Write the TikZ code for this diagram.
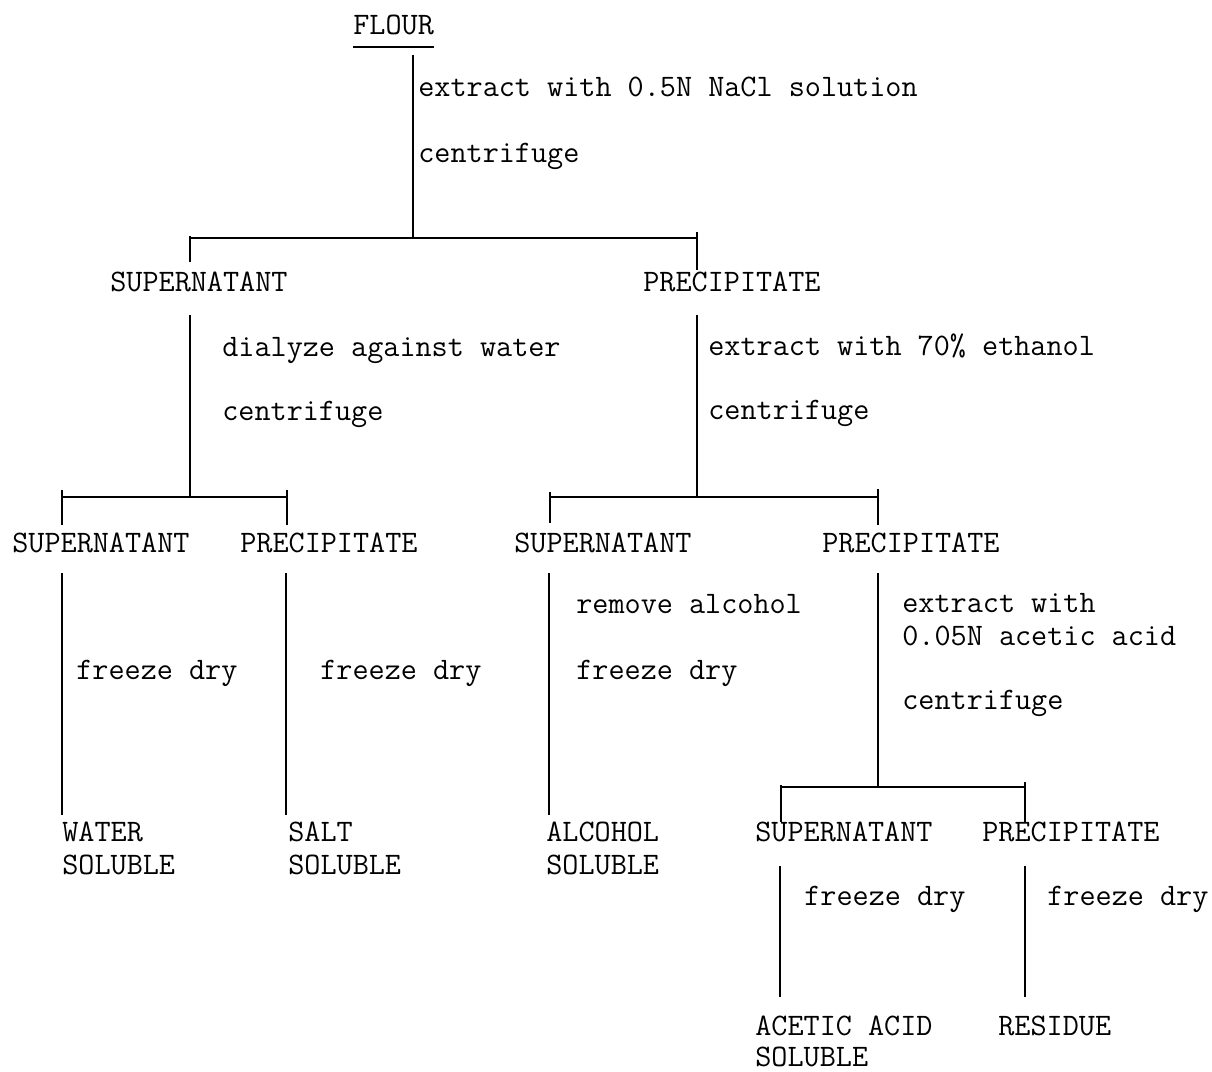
\documentclass[tikz,border=0pt]{standalone}
\usepackage{fontspec}
\begin{document}
\begin{tikzpicture}[x=0.02cm,y=-0.02cm]
    \useasboundingbox (0,0) rectangle (1212,1071);
    \tikzstyle{every node}=[anchor=base west,inner sep=0pt,font=\fontsize{17.8}{20}\selectfont\ttfamily]
    \tikzstyle{line}=[line width=1.3pt]

    % products
    \node (flour) at (353,35)   {FLOUR};
    \node (sup)   at (110,291)  {SUPERNATANT};
    \node (pre)   at (643,291)  {PRECIPITATE};
    \node (supW)  at (12,552)   {SUPERNATANT};
    \node (preS)  at (240,552)  {PRECIPITATE};
    \node (supA)  at (514,552)  {SUPERNATANT};
    \node (preA)  at (822,552)  {PRECIPITATE};
    \node (water) at (62,841)   {WATER};
    \node (waterb) at (62,874)  {SOLUBLE};
    \node (salt)  at (288,841)  {SALT};
    \node (saltb) at (288,874)  {SOLUBLE};
    \node (alc)   at (546,841)  {ALCOHOL};
    \node (alcb)  at (546,874)  {SOLUBLE};
    \node (supH)  at (755,841)  {SUPERNATANT};
    \node (preH)  at (982,841)  {PRECIPITATE};
    \node (acid)  at (755,1035) {ACETIC ACID};
    \node (acidb) at (755,1066) {SOLUBLE};
    \node (res)   at (998,1035) {RESIDUE};

    % steps
    \node (s1)  at (418,97)  {extract with 0.5N NaCl solution};
    \node (s1b) at (418,163) {centrifuge};
    \node (s2)  at (222,356) {dialyze against water};
    \node (s2b) at (222,420) {centrifuge};
    \node (s3)  at (708,355) {extract with 70\% ethanol};
    \node (s3b) at (708,419) {centrifuge};
    \node (s4)  at (76,679)  {freeze dry};
    \node (s5)  at (320,679) {freeze dry};
    \node (s6)  at (576,613) {remove alcohol};
    \node (s6b) at (576,679) {freeze dry};
    \node (s7)  at (902,612) {extract with};
    \node (s7b) at (902,645) {0.05N acetic acid};
    \node (s7c) at (902,709) {centrifuge};
    \node (s8)  at (804,905) {freeze dry};
    \node (s9)  at (1047,905) {freeze dry};

    \draw[line] ([yshift=-0.24cm]flour.base west) -- ([yshift=-0.24cm]flour.base east);

    % first split
    \coordinate (f0) at (413,55);
    \coordinate (f1) at (413,238);
    \coordinate (b1l) at (190,238);
    \coordinate (b1r) at (697,238);
    \draw[line] (f0) -- (f1);
    \draw[line] (b1l) -- (b1r);
    \draw[line] ([yshift=0.04cm]b1l) -- (190,262);
    \draw[line] ([yshift=0.12cm]b1r) -- (697,270);

    % second level
    \coordinate (u0) at (190,315);
    \coordinate (u1) at (190,497);
    \coordinate (v0) at (697,315);
    \coordinate (v1) at (697,497);
    \draw[line] (u0) -- (u1);
    \draw[line] (v0) -- (v1);
    \coordinate (b2l) at (62,497);
    \coordinate (b2r) at (287,497);
    \coordinate (b3l) at (550,497);
    \coordinate (b3r) at (878,497);
    \draw[line] (b2l) -- (b2r);
    \draw[line] (b3l) -- (b3r);
    \draw[line] ([yshift=0.14cm]b2l) -- (62,525);
    \draw[line] ([yshift=0.14cm]b2r) -- (287,525);
    \draw[line] ([yshift=0.10cm]b3l) -- (550,523);
    \draw[line] ([yshift=0.16cm]b3r) -- (878,525);

    % third level
    \coordinate (w0) at (62,573);   \coordinate (w1) at (62,815);
    \coordinate (x0) at (286,573);  \coordinate (x1) at (286,815);
    \coordinate (y0) at (549,573);  \coordinate (y1) at (549,815);
    \coordinate (z0) at (878,573);  \coordinate (z1) at (878,787);
    \draw[line] (w0) -- (w1);
    \draw[line] (x0) -- (x1);
    \draw[line] (y0) -- (y1);
    \draw[line] (z0) -- (z1);
    \coordinate (b4l) at (781,787);
    \coordinate (b4r) at (1025,787);
    \draw[line] (b4l) -- (b4r);
    \draw[line] ([yshift=0.04cm]b4l) -- (781,822);
    \draw[line] ([yshift=0.10cm]b4r) -- (1025,822);

    % last level
    \coordinate (h0) at (780,866);  \coordinate (h1) at (780,997);
    \coordinate (k0) at (1025,866); \coordinate (k1) at (1025,997);
    \draw[line] (h0) -- (h1);
    \draw[line] (k0) -- (k1);
\end{tikzpicture}
\end{document}
